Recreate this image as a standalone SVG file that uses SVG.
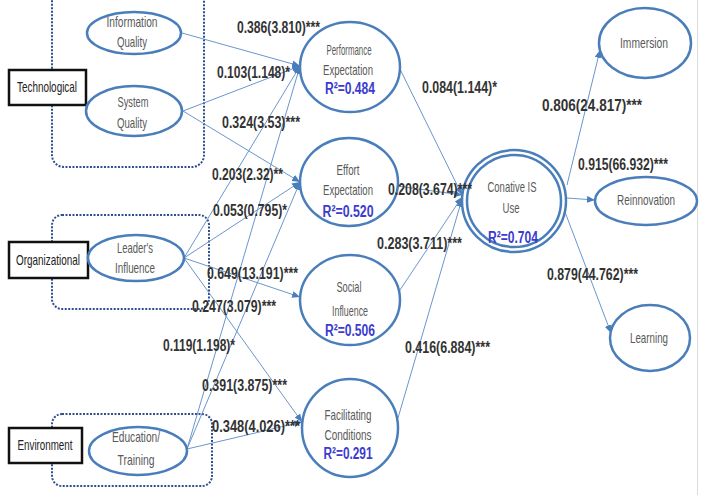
<svg xmlns="http://www.w3.org/2000/svg" width="704" height="495" viewBox="0 0 704 495">
<defs>
<marker id="ah" markerWidth="8" markerHeight="7" refX="8" refY="3.5" orient="auto" markerUnits="userSpaceOnUse">
<path d="M0,0 L8,3.5 L0,7 z" fill="#4a7ebb"/>
</marker>
</defs>
<style>
.grp{fill:none;stroke:#2f4f8f;stroke-width:2;stroke-dasharray:2 1.5}
.box{fill:#fff;stroke:#111;stroke-width:2.5}
.nd{fill:#fff;stroke:#4a7ebb;stroke-width:2.5}
.cn{fill:none;stroke:#6b95cc;stroke-width:1;marker-end:url(#ah)}
.t{font-family:"Liberation Sans",Arial,sans-serif;font-size:15px;fill:#595959;text-anchor:middle}
.bt{font-family:"Liberation Sans",Arial,sans-serif;font-size:15px;fill:#222;text-anchor:middle}
.r2{font-family:"Liberation Sans",Arial,sans-serif;font-size:16px;font-weight:bold;fill:#3b3bd0;text-anchor:middle}
.lb{font-family:"Liberation Sans",Arial,sans-serif;font-size:16px;font-weight:bold;fill:#333}
</style>
<rect width="704" height="495" fill="#fff"/>
<line x1="697.5" y1="0" x2="697.5" y2="495" stroke="#dcdcdc" stroke-width="1"/>

<g id="groups">
<rect class="grp" x="52" y="-15" width="152" height="182" rx="12"/>
<rect class="grp" x="52" y="215" width="157" height="94" rx="10"/>
<rect class="grp" x="52" y="414" width="160" height="72" rx="10"/>
</g>

<g id="connectors">
<line class="cn" x1="182" y1="33" x2="300" y2="66"/>
<line class="cn" x1="183" y1="111" x2="300" y2="66"/>
<line class="cn" x1="183" y1="111" x2="300" y2="182"/>
<line class="cn" x1="184" y1="258" x2="300" y2="66"/>
<line class="cn" x1="184" y1="258" x2="300" y2="182"/>
<line class="cn" x1="184" y1="258" x2="300" y2="297"/>
<line class="cn" x1="184" y1="258" x2="302" y2="422"/>
<line class="cn" x1="187" y1="449" x2="300" y2="66"/>
<line class="cn" x1="187" y1="449" x2="300" y2="182"/>
<line class="cn" x1="187" y1="449" x2="302" y2="422"/>
<line class="cn" x1="398" y1="65" x2="462" y2="195"/>
<line class="cn" x1="397" y1="186" x2="462" y2="195"/>
<line class="cn" x1="398" y1="293" x2="462" y2="197"/>
<line class="cn" x1="398" y1="418" x2="462" y2="199"/>
<line class="cn" x1="567" y1="185" x2="600" y2="50"/>
<line class="cn" x1="567" y1="198" x2="595" y2="200"/>
<line class="cn" x1="565" y1="212" x2="611" y2="333"/>
</g>

<g id="technological">
<rect class="box" x="9" y="70" width="77" height="35"/>
<text class="bt" x="47" y="92" textLength="60" lengthAdjust="spacingAndGlyphs">Technological</text>
</g>
<g id="organizational">
<rect class="box" x="9" y="242" width="79" height="36"/>
<text class="bt" x="48" y="265" textLength="64" lengthAdjust="spacingAndGlyphs">Organizational</text>
</g>
<g id="environment">
<rect class="box" x="9" y="428" width="73" height="35"/>
<text class="bt" x="45" y="450" textLength="55" lengthAdjust="spacingAndGlyphs">Environment</text>
</g>

<g id="information-quality">
<ellipse class="nd" cx="134" cy="33" rx="47" ry="21"/>
<text class="t" x="132" y="27" textLength="51" lengthAdjust="spacingAndGlyphs">Information</text>
<text class="t" x="132" y="47" textLength="30" lengthAdjust="spacingAndGlyphs">Quality</text>
</g>
<g id="system-quality">
<ellipse class="nd" cx="134" cy="111" rx="48" ry="25"/>
<text class="t" x="133" y="107" textLength="31" lengthAdjust="spacingAndGlyphs">System</text>
<text class="t" x="132" y="128" textLength="30" lengthAdjust="spacingAndGlyphs">Quality</text>
</g>
<g id="leaders-influence">
<ellipse class="nd" cx="136" cy="258" rx="48" ry="23"/>
<text class="t" x="135" y="253" textLength="36" lengthAdjust="spacingAndGlyphs">Leader's</text>
<text class="t" x="135" y="273" textLength="40" lengthAdjust="spacingAndGlyphs">Influence</text>
</g>
<g id="education-training">
<ellipse class="nd" cx="138" cy="451" rx="49" ry="24"/>
<text class="t" x="136" y="442" textLength="48" lengthAdjust="spacingAndGlyphs">Education/</text>
<text class="t" x="136" y="465" textLength="37" lengthAdjust="spacingAndGlyphs">Training</text>
</g>

<g id="performance-expectation">
<ellipse class="nd" cx="350" cy="67" rx="50" ry="45"/>
<text class="t" x="349" y="55" textLength="45" lengthAdjust="spacingAndGlyphs">Performance</text>
<text class="t" x="348" y="75" textLength="50" lengthAdjust="spacingAndGlyphs">Expectation</text>
<text class="r2" x="350" y="94" textLength="50" lengthAdjust="spacingAndGlyphs">R²=0.484</text>
</g>
<g id="effort-expectation">
<ellipse class="nd" cx="349" cy="182" rx="49" ry="44"/>
<text class="t" x="348" y="175" textLength="23" lengthAdjust="spacingAndGlyphs">Effort</text>
<text class="t" x="348" y="195" textLength="50" lengthAdjust="spacingAndGlyphs">Expectation</text>
<text class="r2" x="348" y="217" textLength="51" lengthAdjust="spacingAndGlyphs">R²=0.520</text>
</g>
<g id="social-influence">
<ellipse class="nd" cx="350" cy="300" rx="50" ry="45"/>
<text class="t" x="349" y="292" textLength="25" lengthAdjust="spacingAndGlyphs">Social</text>
<text class="t" x="350" y="316" textLength="36" lengthAdjust="spacingAndGlyphs">Influence</text>
<text class="r2" x="350" y="336" textLength="50" lengthAdjust="spacingAndGlyphs">R²=0.506</text>
</g>
<g id="facilitating-conditions">
<ellipse class="nd" cx="350" cy="428" rx="48" ry="49"/>
<text class="t" x="348" y="420" textLength="47" lengthAdjust="spacingAndGlyphs">Facilitating</text>
<text class="t" x="348" y="440" textLength="47" lengthAdjust="spacingAndGlyphs">Conditions</text>
<text class="r2" x="348" y="459" textLength="49" lengthAdjust="spacingAndGlyphs">R²=0.291</text>
</g>

<g id="conative-is-use">
<ellipse class="nd" cx="514" cy="201" rx="52" ry="51"/>
<ellipse class="nd" cx="514" cy="201" rx="47" ry="46"/>
<text class="t" x="512" y="192" textLength="49" lengthAdjust="spacingAndGlyphs">Conative IS</text>
<text class="t" x="511" y="213" textLength="17" lengthAdjust="spacingAndGlyphs">Use</text>
<text class="r2" x="513" y="243" textLength="50" lengthAdjust="spacingAndGlyphs">R²=0.704</text>
</g>

<g id="immersion">
<ellipse class="nd" cx="645" cy="43" rx="46" ry="35"/>
<text class="t" x="644" y="48" textLength="48" lengthAdjust="spacingAndGlyphs">Immersion</text>
</g>
<g id="reinnovation">
<ellipse class="nd" cx="646" cy="201" rx="51" ry="24"/>
<text class="t" x="646" y="205" textLength="58" lengthAdjust="spacingAndGlyphs">Reinnovation</text>
</g>
<g id="learning">
<ellipse class="nd" cx="650" cy="338" rx="40" ry="33"/>
<text class="t" x="649" y="343" textLength="38" lengthAdjust="spacingAndGlyphs">Learning</text>
</g>

<g id="labels">
<text class="lb" x="237" y="33" textLength="83" lengthAdjust="spacingAndGlyphs">0.386(3.810)***</text>
<text class="lb" x="217" y="78" textLength="73" lengthAdjust="spacingAndGlyphs">0.103(1.148)*</text>
<text class="lb" x="222" y="128" textLength="78" lengthAdjust="spacingAndGlyphs">0.324(3.53)***</text>
<text class="lb" x="212" y="180" textLength="71" lengthAdjust="spacingAndGlyphs">0.203(2.32)**</text>
<text class="lb" x="213" y="216" textLength="74" lengthAdjust="spacingAndGlyphs">0.053(0.795)*</text>
<text class="lb" x="207" y="279" textLength="91" lengthAdjust="spacingAndGlyphs">0.649(13.191)***</text>
<text class="lb" x="192" y="312" textLength="84" lengthAdjust="spacingAndGlyphs">0.247(3.079)***</text>
<text class="lb" x="163" y="351" textLength="72" lengthAdjust="spacingAndGlyphs">0.119(1.198)*</text>
<text class="lb" x="202" y="391" textLength="85" lengthAdjust="spacingAndGlyphs">0.391(3.875)***</text>
<text class="lb" x="212" y="432" textLength="88" lengthAdjust="spacingAndGlyphs">0.348(4.026)***</text>
<text class="lb" x="422" y="93" textLength="75" lengthAdjust="spacingAndGlyphs">0.084(1.144)*</text>
<text class="lb" x="388" y="195" textLength="84" lengthAdjust="spacingAndGlyphs">0.208(3.674)***</text>
<text class="lb" x="377" y="249" textLength="85" lengthAdjust="spacingAndGlyphs">0.283(3.711)***</text>
<text class="lb" x="405" y="353" textLength="85" lengthAdjust="spacingAndGlyphs">0.416(6.884)***</text>
<text class="lb" x="542" y="111" textLength="100" lengthAdjust="spacingAndGlyphs">0.806(24.817)***</text>
<text class="lb" x="578" y="170" textLength="90" lengthAdjust="spacingAndGlyphs">0.915(66.932)***</text>
<text class="lb" x="547" y="280" textLength="91" lengthAdjust="spacingAndGlyphs">0.879(44.762)***</text>
</g>
</svg>
